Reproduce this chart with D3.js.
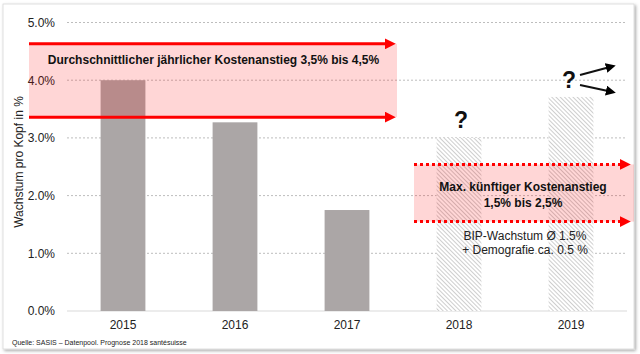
<!DOCTYPE html>
<html><head><meta charset="utf-8">
<script src="https://cdn.jsdelivr.net/npm/d3@7"></script>
<style>
html,body{margin:0;padding:0;background:#fff;}
svg{display:block;font-family:"Liberation Sans",Arial,sans-serif;}
</style></head>
<body>
<svg id="c" width="640" height="354"></svg>
<script>
const years = ["2015","2016","2017","2018","2019"];
const values = [4.0, 3.27, 1.75, 3.0, 3.71];
const projected = [false, false, false, true, true];
const yTicks = [0, 1, 2, 3, 4, 5];
const band1 = [3.36, 4.63];
const band2 = [1.55, 2.54];
const band1Label = "Durchschnittlicher jährlicher Kostenanstieg 3,5% bis 4,5%";
const band2Label = ["Max. künftiger Kostenanstieg", "1,5% bis 2,5%"];
const noteLines = ["BIP-Wachstum Ø 1.5%", "+ Demografie ca. 0.5 %"];
const yTitle = "Wachstum pro Kopf in %";
const source = "Quelle: SASIS – Datenpool. Prognose 2018 santésuisse";

const svg = d3.select("#c");
const defs = svg.append("defs");
const sh = defs.append("filter").attr("id","sh").attr("x","-5%").attr("y","-5%").attr("width","110%").attr("height","110%");
sh.append("feDropShadow").attr("dx",1.5).attr("dy",1.5).attr("stdDeviation",1.5).attr("flood-color","#000").attr("flood-opacity",0.35);

const pat = defs.append("pattern").attr("id","hatch").attr("patternUnits","userSpaceOnUse")
  .attr("width",3).attr("height",3).attr("patternTransform","rotate(-45)");
pat.append("rect").attr("width",3).attr("height",3).attr("fill","#fff");
pat.append("line").attr("x1",0).attr("y1",0).attr("x2",0).attr("y2",3).attr("stroke","#b4b4b4").attr("stroke-width",1.3);

function marker(id, color, size){
  defs.append("marker").attr("id",id).attr("viewBox","0 0 10 10").attr("refX",2).attr("refY",5)
    .attr("markerWidth",size).attr("markerHeight",size).attr("markerUnits","userSpaceOnUse").attr("orient","auto")
    .append("path").attr("d","M0,0L10,5L0,10Z").attr("fill",color);
}
marker("ar","#ff0000",11);
marker("ak","#000",10);

// slide frame
svg.append("rect").attr("x",3).attr("y",4).attr("width",631).attr("height",345)
  .attr("fill","#fff").attr("stroke","#d8d8d8").attr("stroke-width",0.8).attr("filter","url(#sh)");

const m = {l:67, r:627, t:22.5, b:311};
const x = d3.scaleBand().domain(years).range([m.l, m.r]).paddingInner(0.6).paddingOuter(0.3);
const y = d3.scaleLinear().domain([0,5]).range([m.b, m.t]);

// gridlines
const yAxis = d3.axisLeft(y).tickValues(yTicks).tickFormat(d => d.toFixed(1)+"%").tickSize(0).tickPadding(12);
const gy = svg.append("g").attr("transform",`translate(${m.l},0)`).call(yAxis);
gy.select(".domain").remove();
gy.selectAll("text").attr("font-size",12).attr("fill","#222").attr("font-family","Liberation Sans, Arial, sans-serif");
svg.append("g").selectAll("line").data(yTicks.filter(d=>d>0)).join("line")
  .attr("x1",m.l).attr("x2",m.r).attr("y1",d=>y(d)).attr("y2",d=>y(d))
  .attr("stroke","#bdbdbd").attr("stroke-width",1).attr("stroke-dasharray","2,2");
svg.append("line").attr("x1",m.l).attr("x2",m.r).attr("y1",y(0)).attr("y2",y(0)).attr("stroke","#d9d9d9");

// bars
svg.append("g").selectAll("rect").data(years).join("rect")
  .attr("x",d=>x(d)).attr("width",x.bandwidth())
  .attr("y",(d,i)=>y(values[i])).attr("height",(d,i)=>y(0)-y(values[i]))
  .attr("fill",(d,i)=>projected[i] ? "url(#hatch)" : "#aba6a6");

// x axis
const xAxis = d3.axisBottom(x).tickSize(0).tickPadding(9);
const gx = svg.append("g").attr("transform",`translate(0,${y(0)})`).call(xAxis);
gx.select(".domain").remove();
gx.selectAll("text").attr("font-size",12).attr("fill","#222").attr("font-family","Liberation Sans, Arial, sans-serif");

// y title
svg.append("text").attr("transform","translate(23,162) rotate(-90)").attr("text-anchor","middle")
  .attr("font-size",12).attr("fill","#222").text(yTitle);

// band 1
const b1x0 = 29, b1x1 = 397;
svg.append("rect").attr("x",b1x0).attr("width",b1x1-b1x0).attr("y",y(band1[1])).attr("height",y(band1[0])-y(band1[1]))
  .attr("fill","rgba(255,0,0,0.16)");
[band1[1], band1[0]].forEach(v=>{
  svg.append("line").attr("x1",b1x0).attr("x2",b1x1-10).attr("y1",y(v)).attr("y2",y(v))
    .attr("stroke","#ff0000").attr("stroke-width",3).attr("marker-end","url(#ar)");
});
svg.append("text").attr("x",(47+380)/2).attr("y",63.5).attr("text-anchor","middle")
  .attr("font-size",12).attr("font-weight","bold").attr("fill","#111").text(band1Label);

// band 2
const b2x0 = 414, b2x1 = 634;
svg.append("rect").attr("x",b2x0).attr("width",b2x1-b2x0).attr("y",y(band2[1])).attr("height",y(band2[0])-y(band2[1]))
  .attr("fill","rgba(255,0,0,0.16)");
[band2[1], band2[0]].forEach(v=>{
  svg.append("line").attr("x1",b2x0).attr("x2",b2x1-12).attr("y1",y(v)).attr("y2",y(v))
    .attr("stroke","#ff0000").attr("stroke-width",3).attr("stroke-dasharray","3,3").attr("marker-end","url(#ar)");
});
svg.append("text").attr("x",523).attr("y",191).attr("text-anchor","middle").attr("font-size",12)
  .attr("font-weight","bold").attr("fill","#111")
  .selectAll("tspan").data(band2Label).join("tspan").attr("x",523).attr("dy",(d,i)=>i?16:0).text(d=>d);

svg.append("text").attr("x",525).attr("y",240).attr("text-anchor","middle").attr("font-size",12)
  .attr("fill","#222")
  .selectAll("tspan").data(noteLines).join("tspan").attr("x",525).attr("dy",(d,i)=>i?14:0).text(d=>d);

// question marks
[3,4].forEach(i=>{
  const cx = x(years[i]) + x.bandwidth()/2 + (i===3?2:-2);
  svg.append("text").attr("x",cx).attr("y",y(values[i]) - (i===3?10:9)).attr("text-anchor","middle")
    .attr("font-size",23).attr("font-weight","bold").attr("fill","#111").text("?");
});
// arrows near 2019
svg.append("line").attr("x1",580).attr("y1",75).attr("x2",608).attr("y2",67.5).attr("stroke","#111").attr("stroke-width",2).attr("marker-end","url(#ak)");
svg.append("line").attr("x1",580).attr("y1",85).attr("x2",608).attr("y2",91).attr("stroke","#111").attr("stroke-width",2).attr("marker-end","url(#ak)");

// source
svg.append("text").attr("x",12).attr("y",345).attr("font-size",7).attr("fill","#222").text(source);
</script>
</body></html>
